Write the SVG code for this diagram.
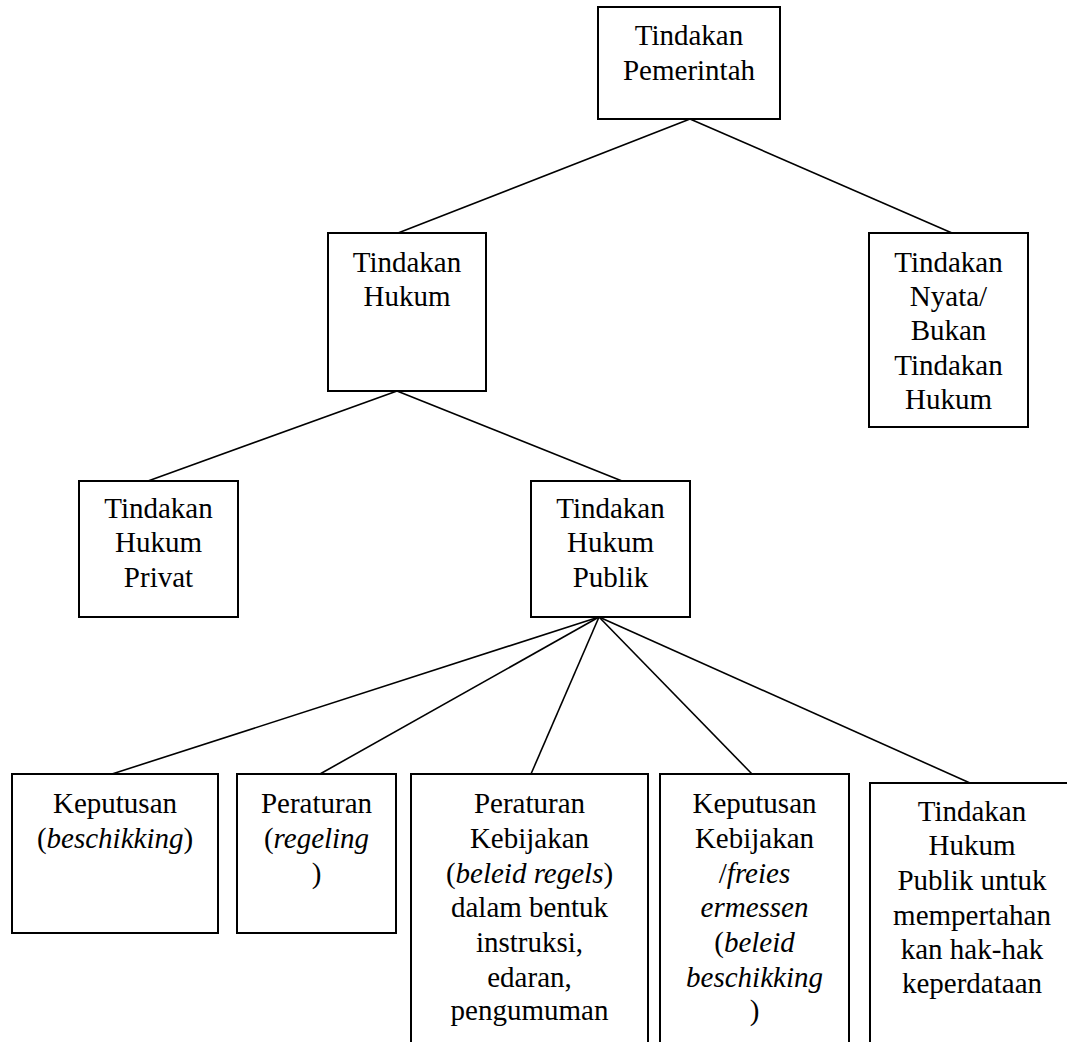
<svg xmlns="http://www.w3.org/2000/svg" width="1067" height="1042" viewBox="0 0 1067 1042">
<style>
.box{fill:#fff;stroke:#000;stroke-width:2}
.ln{stroke:#000;stroke-width:1.6;fill:none}
text{font-family:"Liberation Serif","Times New Roman",serif;font-size:29px;fill:#000;text-anchor:middle}
.i{font-style:italic}
</style>
<rect width="1067" height="1042" fill="#fff"/>
<g id="connectors">
<line class="ln" x1="690" y1="119" x2="398" y2="233"/>
<line class="ln" x1="690" y1="119" x2="952" y2="233"/>
<line class="ln" x1="397" y1="391" x2="148" y2="481"/>
<line class="ln" x1="397" y1="391" x2="622" y2="481"/>
<line class="ln" x1="599" y1="617" x2="112" y2="774"/>
<line class="ln" x1="599" y1="617" x2="320" y2="774"/>
<line class="ln" x1="599" y1="617" x2="531" y2="774"/>
<line class="ln" x1="599" y1="617" x2="752" y2="774"/>
<line class="ln" x1="599" y1="617" x2="970" y2="783"/>
</g>
<g id="n-pemerintah">
<rect class="box" x="598" y="7" width="182" height="112"/>
<text x="689" y="45">Tindakan</text>
<text x="689" y="80">Pemerintah</text>
</g>
<g id="n-hukum">
<rect class="box" x="328" y="233" width="158" height="158"/>
<text x="407" y="272">Tindakan</text>
<text x="407" y="306">Hukum</text>
</g>
<g id="n-nyata">
<rect class="box" x="869" y="233" width="159" height="194"/>
<text x="948.5" y="272">Tindakan</text>
<text x="948.5" y="306">Nyata/</text>
<text x="948.5" y="340">Bukan</text>
<text x="948.5" y="375">Tindakan</text>
<text x="948.5" y="409">Hukum</text>
</g>
<g id="n-privat">
<rect class="box" x="79" y="481" width="159" height="136"/>
<text x="158.5" y="518">Tindakan</text>
<text x="158.5" y="552">Hukum</text>
<text x="158.5" y="587">Privat</text>
</g>
<g id="n-publik">
<rect class="box" x="531" y="481" width="159" height="136"/>
<text x="610.5" y="518">Tindakan</text>
<text x="610.5" y="552">Hukum</text>
<text x="610.5" y="587">Publik</text>
</g>
<g id="n-keputusan">
<rect class="box" x="12" y="774" width="206" height="159"/>
<text x="115" y="813">Keputusan</text>
<text x="115" y="848">(<tspan class="i">beschikking</tspan>)</text>
</g>
<g id="n-peraturan">
<rect class="box" x="237" y="774" width="159" height="159"/>
<text x="316.5" y="813">Peraturan</text>
<text x="316.5" y="848">(<tspan class="i">regeling</tspan></text>
<text x="316.5" y="883">)</text>
</g>
<g id="n-peraturan-kebijakan">
<rect class="box" x="411" y="774" width="237" height="290"/>
<text x="529.5" y="813">Peraturan</text>
<text x="529.5" y="848">Kebijakan</text>
<text x="529.5" y="883">(<tspan class="i">beleid regels</tspan>)</text>
<text x="529.5" y="917">dalam bentuk</text>
<text x="529.5" y="952">instruksi,</text>
<text x="529.5" y="987">edaran,</text>
<text x="529.5" y="1020">pengumuman</text>
</g>
<g id="n-keputusan-kebijakan">
<rect class="box" x="660" y="774" width="189" height="290"/>
<text x="754.5" y="813">Keputusan</text>
<text x="754.5" y="848">Kebijakan</text>
<text x="754.5" y="883">/<tspan class="i">freies</tspan></text>
<text x="754.5" y="917" class="i">ermessen</text>
<text x="754.5" y="952">(<tspan class="i">beleid</tspan></text>
<text x="754.5" y="987" class="i">beschikking</text>
<text x="754.5" y="1020">)</text>
</g>
<g id="n-publik-perdata">
<rect class="box" x="870" y="783" width="206" height="290"/>
<text x="972" y="821">Tindakan</text>
<text x="972" y="855">Hukum</text>
<text x="972" y="890">Publik untuk</text>
<text x="972" y="925">mempertahan</text>
<text x="972" y="959">kan hak-hak</text>
<text x="972" y="993">keperdataan</text>
</g>
</svg>
